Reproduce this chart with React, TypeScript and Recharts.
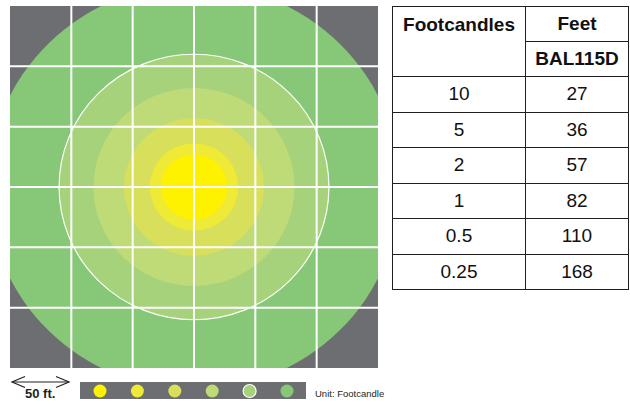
import React from "react";
import {
  ScatterChart,
  Scatter,
  XAxis,
  YAxis,
  ReferenceArea,
  ReferenceLine,
} from "recharts";

// isofootcandle levels and their reach in feet (from the table)
const footcandles = ["10", "5", "2", "1", "0.5", "0.25"];
const feet = [27, 36, 57, 82, 110, 168];
const legendLabels = ["10", "5", "2", "1", ".5", ".25"];
const gridFeet = [-100, -50, 0, 50, 100];
const fixture = "BAL115D";

const ringColors = ["#fff200", "#eeea35", "#d8e05b", "#bedb78", "#a5d27a", "#86c877"];
const gray = "#6d6e71";
const font = "'Liberation Sans', Arial, sans-serif";

// fixture sits in the middle of the plan
const fixturePoint = [{ x: 0, y: 0 }];

function ringShape(color: string, outlined: boolean) {
  return (props: any) => {
    const { x1, y1, x2, y2, clipPath } = props;
    return (
      <ellipse
        cx={x1}
        cy={y1}
        rx={Math.abs(x2 - x1)}
        ry={Math.abs(y1 - y2)}
        fill={color}
        stroke={outlined ? "#ffffff" : "none"}
        strokeWidth={1.2}
        clipPath={clipPath}
      />
    );
  };
}

function Diagram() {
  // largest ring first so the smaller ones sit on top
  const order = feet.map((_, i) => i).reverse();
  return (
    <ScatterChart width={390} height={380} margin={{ top: 6, right: 12, bottom: 12, left: 10 }}>
      <XAxis type="number" dataKey="x" domain={[-150, 150]} allowDataOverflow hide />
      <YAxis type="number" dataKey="y" domain={[-150, 150]} allowDataOverflow hide />
      <ReferenceArea x1={-150} x2={150} y1={-150} y2={150} fill={gray} fillOpacity={1} stroke="none" />
      {order.map((i) => (
        <ReferenceLine
          key={footcandles[i]}
          segment={[
            { x: 0, y: 0 },
            { x: feet[i], y: feet[i] },
          ]}
          ifOverflow="hidden"
          shape={ringShape(ringColors[i], footcandles[i] === "0.5")}
        />
      ))}
      {gridFeet.map((v) => (
        <ReferenceLine key={"vx" + v} x={v} stroke="#ffffff" strokeWidth={2} />
      ))}
      {gridFeet.map((v) => (
        <ReferenceLine key={"hy" + v} y={v} stroke="#ffffff" strokeWidth={2} />
      ))}
      <Scatter data={fixturePoint} shape={() => <g />} isAnimationActive={false} />
    </ScatterChart>
  );
}

function Legend() {
  return (
    <svg width={630} height={30} style={{ position: "absolute", left: 0, top: 375 }}>
      {/* 50 ft. scale arrow */}
      <g stroke="#231f20" strokeWidth={1.2} fill="none">
        <line x1={12} y1={7} x2={69} y2={7} />
        <polyline points="25,1.5 12,7 25,12.5" />
        <polyline points="56,1.5 69,7 56,12.5" />
      </g>
      <text x={25} y={23} fontFamily={font} fontWeight="bold" fontSize={13} fill="#231f20">
        50 ft.
      </text>
      <rect x={80} y={7} width={226} height={17} fill={gray} />
      {legendLabels.map((lab, i) => (
        <g key={lab}>
          <circle
            cx={100 + i * 37.4}
            cy={16}
            r={6.5}
            fill={ringColors[i]}
            stroke={i === 4 ? "#ffffff" : "none"}
            strokeWidth={1.2}
          />
          <text x={100 + i * 37.4} y={36} textAnchor="middle" fontFamily={font} fontSize={9} fill="#231f20">
            {lab}
          </text>
        </g>
      ))}
      <text x={315} y={22} fontFamily={font} fontSize={9.5} fill="#231f20">
        Unit: Footcandle
      </text>
    </svg>
  );
}

function Table() {
  const cell: React.CSSProperties = {
    border: "1.5px solid #231f20",
    textAlign: "center",
    padding: 0,
    fontSize: 19,
    lineHeight: "20px",
  };
  return (
    <table
      style={{
        position: "absolute",
        left: 392,
        top: 6,
        width: 236,
        borderCollapse: "collapse",
        tableLayout: "fixed",
        fontFamily: font,
        color: "#111",
      }}
    >
      <colgroup>
        <col style={{ width: 133 }} />
        <col style={{ width: 103 }} />
      </colgroup>
      <tbody>
        <tr style={{ height: 35 }}>
          <td rowSpan={2} style={{ ...cell, fontWeight: "bold", verticalAlign: "top", paddingTop: 8 }}>
            Footcandles
          </td>
          <td style={{ ...cell, fontWeight: "bold" }}>Feet</td>
        </tr>
        <tr style={{ height: 35 }}>
          <td style={{ ...cell, fontWeight: "bold" }}>{fixture}</td>
        </tr>
        {footcandles.map((fc, i) => (
          <tr key={fc} style={{ height: 35.5 }}>
            <td style={cell}>{fc}</td>
            <td style={cell}>{feet[i]}</td>
          </tr>
        ))}
      </tbody>
    </table>
  );
}

export default function App() {
  return (
    <div style={{ position: "absolute", left: 0, top: 0, width: 630, height: 405, overflow: "hidden", background: "#ffffff" }}>
      <Diagram />
      <Table />
      <Legend />
    </div>
  );
}
